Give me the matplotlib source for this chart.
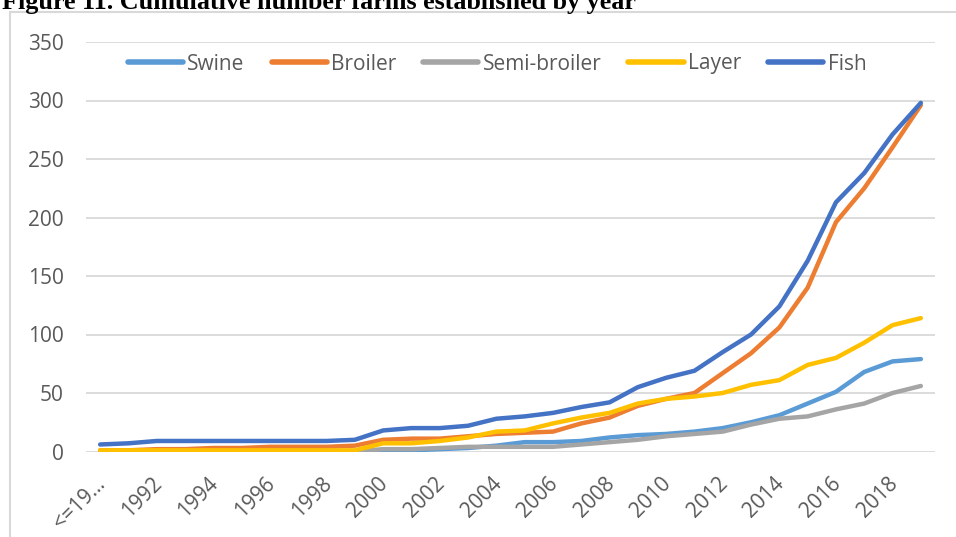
import numpy as np
import matplotlib
matplotlib.use("Agg")
import matplotlib.pyplot as plt
from matplotlib.lines import Line2D
from matplotlib.transforms import ScaledTranslation

# categories (first one is "<=1990", shown truncated like in the source)
years = ["<=1990"] + [str(y) for y in range(1991, 2020)]
tick_labels = ["<=19\u2026"] + [str(y) for y in range(1992, 2019, 2)]

swine = [0, 0, 0, 0, 0, 0, 0, 0, 0, 0,
         1, 1, 2, 3, 5, 8, 8, 9, 12, 14,
         15, 17, 20, 25, 31, 41, 51, 68, 77, 79]
broiler = [1, 1, 2, 2, 3, 3, 4, 4, 4, 5,
           10, 11, 11, 13, 15, 16, 17, 24, 29, 39,
           45, 50, 67, 84, 106, 140, 196, 225, 260, 296]
semi_broiler = [0, 0, 0, 0, 0, 0, 0, 0, 0, 0,
                2, 2, 3, 4, 4, 4, 4, 6, 8, 10,
                13, 15, 17, 23, 28, 30, 36, 41, 50, 56]
layer = [1, 1, 1, 1, 1, 1, 1, 1, 1, 1,
         7, 7, 9, 12, 17, 18, 24, 29, 33, 41,
         45, 47, 50, 57, 61, 74, 80, 93, 108, 114]
fish = [6, 7, 9, 9, 9, 9, 9, 9, 9, 10,
        18, 20, 20, 22, 28, 30, 33, 38, 42, 55,
        63, 69, 85, 100, 124, 163, 213, 238, 271, 298]

series = [
    ("Swine", swine, "#5B9BD5"),
    ("Broiler", broiler, "#ED7D31"),
    ("Semi-broiler", semi_broiler, "#A5A5A5"),
    ("Layer", layer, "#FFC000"),
    ("Fish", fish, "#4472C4"),
]

W, H = 956, 537
fig = plt.figure(figsize=(W / 100, H / 100), dpi=100)
ax = fig.add_axes([86 / W, 1 - 451.5 / H, (935 - 86) / W, (451.5 - 42) / H])

x = np.arange(len(years))
for name, vals, col in series:
    ax.plot(x, vals, color=col, lw=3.2, label=name,
            solid_capstyle="round", solid_joinstyle="round")

ax.set_xlim(-0.5, len(years) - 0.5)
ax.set_ylim(0, 350)
ax.set_yticks(np.arange(0, 351, 50))
ax.set_xticks(x[::2])
ax.set_xticklabels(tick_labels, rotation=45, ha="right", va="center",
                   rotation_mode="anchor")
ax.grid(axis="y", color="#d9d9d9", lw=1.3)
ax.set_axisbelow(True)
for s in ax.spines.values():
    s.set_visible(False)
ax.tick_params(length=0, labelsize=15, labelcolor="#595959")
ax.tick_params(axis="y", pad=16)
ax.tick_params(axis="x", pad=21)
shift = ScaledTranslation(0.02, 0, fig.dpi_scale_trans)
for t in ax.get_xticklabels():
    t.set_transform(t.get_transform() + shift)
for t in ax.get_xticklabels() + ax.get_yticklabels():
    t.set_fontfamily("Open Sans")

leg = fig.legend(loc="center", bbox_to_anchor=(497 / W, 1 - 64 / H),
                 ncol=5, frameon=False, handlelength=2.65, handletextpad=0.2,
                 columnspacing=1.3, prop={"family": "Open Sans", "size": 15})
for t in leg.get_texts():
    t.set_color("#595959")
for h in leg.legend_handles:
    h.set_linewidth(4)

# chart border (left and top visible)
fig.add_artist(Line2D([10 / W, 10 / W], [0, 1 - 12 / H], transform=fig.transFigure,
                      color="#d9d9d9", lw=1.5))
fig.add_artist(Line2D([10 / W, 1], [1 - 12 / H, 1 - 12 / H], transform=fig.transFigure,
                      color="#d9d9d9", lw=1.5))

fig.text(0.002, 1 - 9 / H, "Figure 11. Cumulative number farms established by year",
         fontfamily="Liberation Serif", fontweight="bold", fontsize=18.8,
         va="baseline", ha="left")

fig.savefig("out.png", dpi=100)
